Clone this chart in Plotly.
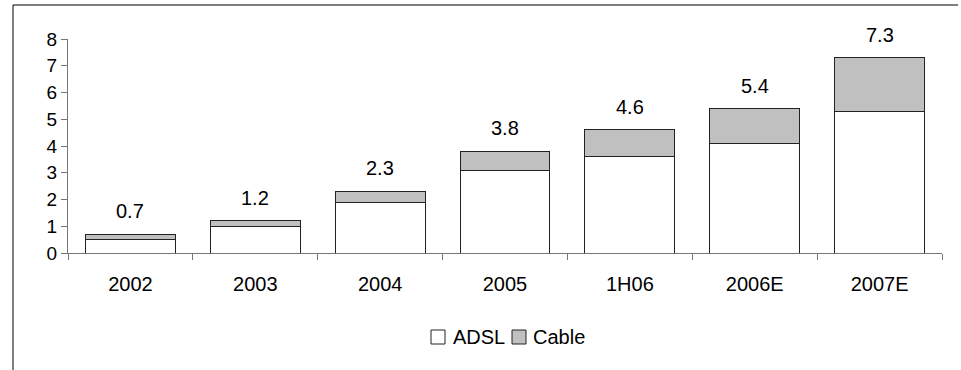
import plotly.graph_objects as go

categories = ["2002", "2003", "2004", "2005", "1H06", "2006E", "2007E"]
adsl = [0.5, 1.0, 1.9, 3.1, 3.6, 4.1, 5.3]
cable = [0.2, 0.2, 0.4, 0.7, 1.0, 1.3, 2.0]
totals = [0.7, 1.2, 2.3, 3.8, 4.6, 5.4, 7.3]
y_ticks = [0, 1, 2, 3, 4, 5, 6, 7, 8]
series_names = ["ADSL", "Cable"]
series_colors = ["#FFFFFF", "#C0C0C0"]

FONT = "Liberation Sans, Arial, sans-serif"
FS = 20
W, H = 961, 370
L, R, T, B = 68, 19, 39, 117
pw, ph = W - L - R, H - T - B


def px_x(p):
    return (p - L) / pw


def px_y(p):
    return (H - B - p) / ph


fig = go.Figure()
for name, vals, col in zip(series_names, [adsl, cable], series_colors):
    fig.add_trace(go.Bar(x=categories, y=vals, name=name, showlegend=False,
                         hoverinfo="skip",
                         marker=dict(color=col, line=dict(color="#222222", width=1))))

for i, t in enumerate(totals):
    fig.add_annotation(x=i, y=t, text=f"{t:.1f}", showarrow=False,
                       yanchor="middle", yshift=23,
                       font=dict(family=FONT, size=FS, color="#000000"))

# legend (drawn to match the compact spreadsheet style)
leg_sq = [(431, 445), (512, 526)]
leg_txt_x = [451, 531]
leg_y = 337
for (x0, x1), tx, name, col in zip(leg_sq, leg_txt_x, series_names, series_colors):
    fig.add_shape(type="rect", xref="paper", yref="paper",
                  x0=px_x(x0), x1=px_x(x1), y0=px_y(leg_y + 7), y1=px_y(leg_y - 7),
                  fillcolor=col, line=dict(color="#222222", width=1))
    fig.add_annotation(xref="paper", yref="paper", x=px_x(tx), y=px_y(leg_y),
                       xanchor="left", yanchor="middle", text=name, showarrow=False,
                       font=dict(family=FONT, size=FS, color="#000000"))

# outer frame lines (left and top)
fig.add_shape(type="line", xref="paper", yref="paper",
              x0=px_x(13), x1=px_x(13), y0=px_y(5), y1=px_y(372),
              line=dict(color="#000000", width=1))
fig.add_shape(type="line", xref="paper", yref="paper",
              x0=px_x(13), x1=px_x(958), y0=px_y(5), y1=px_y(5),
              line=dict(color="#000000", width=1))

fig.update_layout(
    width=W, height=H,
    margin=dict(l=L, r=R, t=T, b=B),
    barmode="stack", bargap=0.28,
    plot_bgcolor="#FFFFFF", paper_bgcolor="#FFFFFF",
    font=dict(family=FONT, size=FS, color="#000000"),
    showlegend=False,
    xaxis=dict(type="category", range=[-0.5, len(categories) - 0.5],
               categoryorder="array", categoryarray=categories,
               showline=True, linecolor="#777777", linewidth=1,
               ticks="outside", tickson="boundaries", ticklen=6, tickcolor="#777777",
               showgrid=False, zeroline=False, tickfont=dict(size=FS), tickangle=0,
               ticklabelstandoff=13),
    yaxis=dict(range=[0, 8], tickvals=y_ticks, showline=True, linecolor="#777777",
               linewidth=1, ticks="outside", ticklen=6, tickcolor="#777777",
               showgrid=False, zeroline=False, tickfont=dict(size=19)),
)

fig.write_html("out.html", config={"displayModeBar": False},
               post_script="document.body.style.margin='0';")
